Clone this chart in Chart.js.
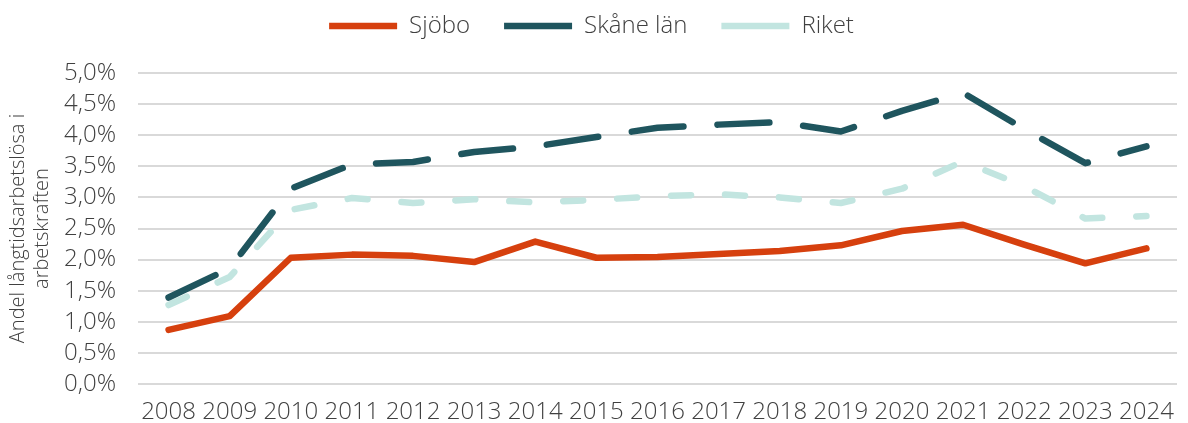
<!DOCTYPE html>
<html>
<head>
<meta charset="utf-8">
<script src="https://cdn.jsdelivr.net/npm/chart.js@4/dist/chart.umd.min.js"></script>
<style>
  html, body { margin: 0; padding: 0; background: #fff; }
  #wrap { width: 1188px; height: 423px; }
</style>
</head>
<body>
<div id="wrap"><canvas id="chart"></canvas></div>
<script>
const years = ['2008','2009','2010','2011','2012','2013','2014','2015','2016','2017','2018','2019','2020','2021','2022','2023','2024']

// andel i procent
const sjobo  = [0.87, 1.09, 2.03, 2.08, 2.06, 1.96, 2.29, 2.03, 2.04, 2.09, 2.14, 2.23, 2.46, 2.56, 2.24, 1.94, 2.18]
const skane  = [1.39, 1.86, 3.14, 3.53, 3.57, 3.73, 3.82, 3.97, 4.12, 4.17, 4.21, 4.06, 4.39, 4.68, 4.10, 3.55, 3.82]
const riket  = [1.27, 1.72, 2.80, 2.99, 2.91, 2.97, 2.92, 2.96, 3.02, 3.05, 3.00, 2.91, 3.14, 3.58, 3.18, 2.66, 2.70]

const font = "'Open Sans', sans-serif"
const textColor = '#404040'

function line(label, data, color, dash) {
    return {
        label: label,
        data: data,
        borderColor: color,
        backgroundColor: color,
        borderWidth: 6.5,
        borderDash: dash,
        borderCapStyle: 'round',
        borderJoinStyle: 'round',
        pointRadius: 0,
        pointHoverRadius: 0,
        tension: 0,
        fill: false
    }
}

// tweak the height the legend takes
const legendMargin = {
    id: 'legendMargin',
    beforeInit(chart) {
        const fit = chart.legend.fit
        chart.legend.fit = function () {
            fit.bind(chart.legend)()
            this.height += 25
        }
    }
}

new Chart(document.getElementById('chart'), {
    type: 'line',
    data: {
        labels: years,
        datasets: [
            line('Sjöbo', sjobo, '#D6400E', []),
            line('Skåne län', skane, '#1F555E', [52, 34]),
            line('Riket', riket, '#C2E5E0', [20, 34])
        ]
    },
    plugins: [legendMargin],
    options: {
        responsive: true,
        maintainAspectRatio: false,
        animation: false,
        layout: { padding: { left: 6, right: 11, top: -20, bottom: 0 } },
        plugins: {
            legend: {
                position: 'top',
                labels: {
                    usePointStyle: true,
                    pointStyle: 'line',
                    pointStyleWidth: 68,
                    boxHeight: 6,
                    padding: 34,
                    color: textColor,
                    font: { family: font, size: 24, weight: 300 }
                }
            },
            tooltip: { enabled: false }
        },
        scales: {
            x: {
                offset: true,
                grid: { display: false },
                border: { display: false },
                afterFit: axis => { axis.height = 39 },
                ticks: {
                    color: textColor,
                    maxRotation: 0,
                    autoSkip: false,
                    padding: 6,
                    font: { family: font, size: 24, weight: 300 }
                }
            },
            y: {
                min: 0,
                max: 5,
                grid: { color: '#D9D9D9', lineWidth: 2, drawTicks: false },
                border: { display: false },
                afterFit: axis => { axis.width = 132 },
                ticks: {
                    stepSize: 0.5,
                    autoSkip: false,
                    padding: 22,
                    color: textColor,
                    font: { family: font, size: 24, weight: 300 },
                    callback: v => v.toFixed(1).replace('.', ',') + '%'
                },
                title: {
                    display: true,
                    text: ['Andel långtidsarbetslösa i', 'arbetskraften'],
                    color: textColor,
                    padding: { top: 0, bottom: 0 },
                    font: { family: font, size: 20, weight: 300, lineHeight: 1.2 }
                }
            }
        }
    }
})
</script>
</body>
</html>
